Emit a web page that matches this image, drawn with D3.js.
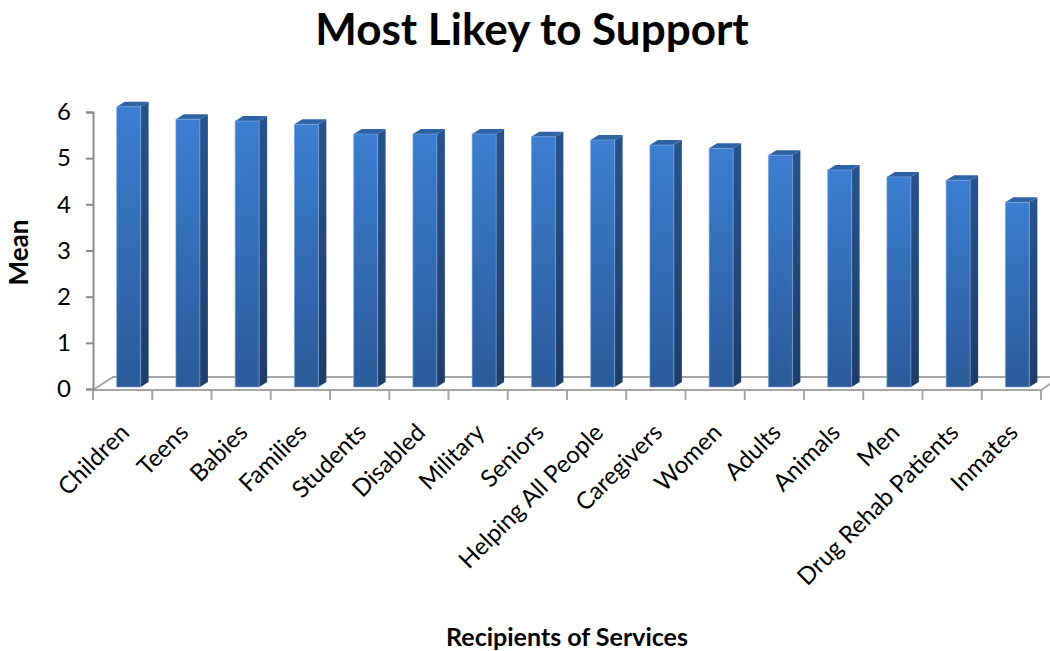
<!DOCTYPE html>
<html>
<head>
<meta charset="utf-8">
<script src="https://cdn.jsdelivr.net/npm/d3@7/dist/d3.min.js"></script>
<style>
  html, body { margin: 0; padding: 0; background: #fff; }
  svg { display: block; font-family: Lato, "Open Sans", sans-serif; }
</style>
</head>
<body>
<svg id="chart" width="1050" height="651"></svg>
<script>
// Recipient categories, in chart order
const categories = [
  "Children", "Teens", "Babies", "Families", "Students", "Disabled",
  "Military", "Seniors", "Helping All People", "Caregivers", "Women",
  "Adults", "Animals", "Men", "Drug Rehab Patients", "Inmates"
];
// Mean support score for each recipient group
const means = [
  6.07, 5.80, 5.76, 5.69, 5.48, 5.48,
  5.48, 5.42, 5.35, 5.24, 5.17,
  5.02, 4.70, 4.55, 4.48, 4.00
];
const yTicks = [0, 1, 2, 3, 4, 5, 6];

const data = categories.map((c, i) => ({ name: c, value: means[i] }));

const svg = d3.select("#chart");

const plot = { left: 93, right: 1041, top: 112, bottom: 389 };

const x = d3.scaleBand().domain(categories).range([plot.left, plot.right]).padding(0);
const y = d3.scaleLinear().domain([0, 6]).range([plot.bottom, plot.top]);

// 3-D look: floor depth and bar geometry
const floorDepth = { dx: 20, dy: -13 };
const barShift = { dx: 6, dy: -2 };   // bar front plane relative to axis plane
const barDepth = { dx: 8, dy: -5 };
const barWidth = 24;
const axisColor = "#8c8c8c";
const floorColor = "#a6a6a6";

const defs = svg.append("defs");
const gFront = defs.append("linearGradient").attr("id", "gFront")
  .attr("x1", 0).attr("y1", 0).attr("x2", 0).attr("y2", 1);
gFront.append("stop").attr("offset", "0%").attr("stop-color", "#3b7ed0");
gFront.append("stop").attr("offset", "100%").attr("stop-color", "#2b5b9b");
const gSide = defs.append("linearGradient").attr("id", "gSide")
  .attr("x1", 0).attr("y1", 0).attr("x2", 0).attr("y2", 1);
gSide.append("stop").attr("offset", "0%").attr("stop-color", "#27548e");
gSide.append("stop").attr("offset", "100%").attr("stop-color", "#1e3d68");

// Title
svg.append("text")
  .attr("x", 532).attr("y", 45)
  .attr("text-anchor", "middle")
  .attr("font-size", 44).attr("font-weight", "bold")
  .attr("fill", "#000")
  .text("Most Likey to Support");

// Floor outline
const floor = svg.append("g").attr("fill", "none").attr("stroke", floorColor).attr("stroke-width", 2);
const fy = y(0) + 1;
floor.append("path")
  .attr("d", `M${plot.left},${fy} L${plot.left + floorDepth.dx},${fy + floorDepth.dy} L${plot.right + floorDepth.dx},${fy + floorDepth.dy} L${plot.right},${fy}`);

// Category axis (front floor edge) with boundary ticks
const xAxisG = svg.append("g");
xAxisG.append("line")
  .attr("x1", plot.left).attr("x2", plot.right)
  .attr("y1", fy).attr("y2", fy)
  .attr("stroke", floorColor).attr("stroke-width", 2);
const bounds = categories.map(c => x(c)).concat([x.range()[1]]);
xAxisG.selectAll("line.tick").data(bounds).join("line")
  .attr("class", "tick")
  .attr("x1", d => d).attr("x2", d => d)
  .attr("y1", fy).attr("y2", fy + 10)
  .attr("stroke", floorColor).attr("stroke-width", 2);

// Category labels, rotated
xAxisG.selectAll("text.cat").data(categories).join("text")
  .attr("class", "cat")
  .attr("transform", d => `translate(${x(d) + x.bandwidth() / 2 + 8},${fy + 44}) rotate(-45)`)
  .attr("text-anchor", "end")
  .attr("font-size", 24)
  .attr("fill", "#000")
  .text(d => d);

// Value axis
const yAxis = d3.axisLeft(y).tickValues(yTicks).tickSize(7).tickPadding(15).tickFormat(d3.format("d"));
const yAxisG = svg.append("g").attr("transform", `translate(${plot.left},0)`).call(yAxis);
yAxisG.select(".domain").attr("stroke", axisColor).attr("stroke-width", 2);
yAxisG.selectAll(".tick line").attr("stroke", axisColor).attr("stroke-width", 2);
yAxisG.selectAll(".tick text")
  .attr("font-size", 24).attr("fill", "#000")
  .attr("font-family", "Lato, 'Open Sans', sans-serif");

// Axis titles
svg.append("text")
  .attr("transform", `translate(28,${(plot.top + plot.bottom) / 2 + 2}) rotate(-90)`)
  .attr("text-anchor", "middle")
  .attr("font-size", 26).attr("font-weight", "bold")
  .text("Mean");
svg.append("text")
  .attr("x", 567).attr("y", 646)
  .attr("text-anchor", "middle")
  .attr("font-size", 25).attr("font-weight", "bold")
  .text("Recipients of Services");

// Bars as 3-D columns: side face, top face, front face
const bars = svg.append("g").selectAll("g.bar").data(data).join("g").attr("class", "bar");
bars.each(function (d) {
  const g = d3.select(this);
  const cx = x(d.name) + x.bandwidth() / 2 + barShift.dx;
  const x0 = cx - barWidth / 2, x1 = cx + barWidth / 2;
  const yb = y(0) + barShift.dy, yt = y(d.value) + barShift.dy;
  const { dx, dy } = barDepth;
  g.append("path")
    .attr("d", `M${x1},${yb} L${x1 + dx},${yb + dy} L${x1 + dx},${yt + dy} L${x1},${yt} Z`)
    .attr("fill", "url(#gSide)");
  g.append("path")
    .attr("d", `M${x0},${yt} L${x0 + dx},${yt + dy} L${x1 + dx},${yt + dy} L${x1},${yt} Z`)
    .attr("fill", "#2d62a5");
  g.append("rect")
    .attr("x", x0).attr("y", yt)
    .attr("width", barWidth).attr("height", yb - yt)
    .attr("fill", "url(#gFront)")
    .attr("stroke", "#7fa9e0").attr("stroke-opacity", 0.6).attr("stroke-width", 1);
});
</script>
</body>
</html>
